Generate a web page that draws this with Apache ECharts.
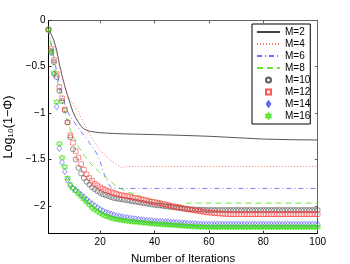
<!DOCTYPE html>
<html><head><meta charset="utf-8">
<script src="https://cdn.jsdelivr.net/npm/echarts@6/dist/echarts.min.js"></script>
<style>html,body{margin:0;padding:0;background:#fff}#c{width:350px;height:264px}</style>
</head><body><div id="c"></div>
<script>
// ---- data ----
const iterations = [1,2,3,4,5,6,7,8,9,10,11,12,13,14,15,16,17,18,19,20,21,22,23,24,25,26,27,28,29,30,31,32,33,34,35,36,37,38,39,40,41,42,43,44,45,46,47,48,49,50,51,52,53,54,55,56,57,58,59,60,61,62,63,64,65,66,67,68,69,70,71,72,73,74,75,76,77,78,79,80,81,82,83,84,85,86,87,88,89,90,91,92,93,94,95,96,97,98,99,100];

// line series (sparse points)
const m2X = [1,2,3,4,5,6,7,8,9,10,11,12,13,14,15,16,18,20,25,30,40,50,60,70,80,90,100];
const m2Y = [-0.10,-0.15,-0.22,-0.32,-0.47,-0.60,-0.71,-0.81,-0.90,-0.99,-1.05,-1.10,-1.14,-1.17,-1.185,-1.195,-1.205,-1.212,-1.22,-1.225,-1.232,-1.24,-1.25,-1.265,-1.28,-1.287,-1.29];
const m4X = [1,2,3,4,5,6,7,8,9,10,11,12,14,16,18,20,22,24,26,28,29,30,100];
const m4Y = [-0.10,-0.16,-0.25,-0.36,-0.49,-0.62,-0.72,-0.80,-0.85,-0.90,-0.94,-0.99,-1.11,-1.22,-1.32,-1.40,-1.46,-1.51,-1.55,-1.59,-1.58,-1.575,-1.575];
const m6X = [1,2,3,4,5,6,7,8,9,10,11,12,14,16,18,19,20,21,22,23,24,25,100];
const m6Y = [-0.10,-0.25,-0.40,-0.55,-0.68,-0.80,-0.90,-0.98,-1.04,-1.08,-1.12,-1.16,-1.24,-1.32,-1.40,-1.45,-1.52,-1.62,-1.70,-1.76,-1.80,-1.812,-1.812];
const m8X = [1,2,3,4,5,6,7,8,9,10,11,12,14,16,18,20,22,24,26,28,30,35,40,45,50,51,52,100];
const m8Y = [-0.10,-0.30,-0.47,-0.62,-0.76,-0.88,-0.99,-1.09,-1.18,-1.25,-1.30,-1.36,-1.45,-1.53,-1.59,-1.64,-1.69,-1.74,-1.79,-1.82,-1.85,-1.90,-1.94,-1.98,-2.00,-1.995,-1.97,-1.97];

// marker series (one value per iteration)
const m10 = [-0.10,-0.33,-0.45,-0.61,-0.76,-0.87,-0.97,-1.10,-1.26,-1.39,
 -1.50,-1.59,-1.65,-1.70,-1.74,-1.77,-1.80,-1.82,-1.84,-1.86,
 -1.875,-1.885,-1.895,-1.905,-1.915,-1.92,-1.925,-1.93,-1.935,-1.94,
 -1.945,-1.95,-1.955,-1.96,-1.965,-1.97,-1.975,-1.98,-1.985,-1.99,
 -1.993,-1.996,-2.0,-2.004,-2.008,-2.012,-2.016,-2.02,-2.024,-2.027,
 -2.03,-2.033,-2.036,-2.038,-2.04,-2.041,-2.042,-2.043,-2.044,-2.045,
 -2.045,-2.045,-2.045,-2.045,-2.045,-2.045,-2.045,-2.045,-2.045,-2.045,
 -2.045,-2.045,-2.045,-2.045,-2.045,-2.045,-2.045,-2.045,-2.045,-2.045,
 -2.045,-2.045,-2.045,-2.045,-2.045,-2.045,-2.045,-2.045,-2.045,-2.045,
 -2.045,-2.045,-2.045,-2.045,-2.045,-2.045,-2.045,-2.045,-2.045,-2.045];
const m12 = [-0.10,-0.31,-0.43,-0.58,-0.72,-0.84,-0.96,-1.10,-1.24,-1.32,
 -1.41,-1.48,-1.55,-1.61,-1.66,-1.70,-1.73,-1.76,-1.78,-1.80,
 -1.815,-1.83,-1.84,-1.85,-1.86,-1.87,-1.88,-1.885,-1.89,-1.895,
 -1.90,-1.91,-1.915,-1.92,-1.93,-1.935,-1.94,-1.95,-1.955,-1.96,
 -1.965,-1.97,-1.98,-1.985,-1.99,-2.0,-2.005,-2.01,-2.015,-2.02,
 -2.03,-2.035,-2.04,-2.045,-2.05,-2.055,-2.06,-2.065,-2.07,-2.072,
 -2.075,-2.078,-2.08,-2.083,-2.085,-2.087,-2.089,-2.09,-2.09,-2.09,
 -2.09,-2.09,-2.09,-2.09,-2.09,-2.09,-2.09,-2.09,-2.09,-2.09,
 -2.09,-2.09,-2.09,-2.09,-2.09,-2.09,-2.09,-2.09,-2.09,-2.09,
 -2.09,-2.09,-2.09,-2.09,-2.09,-2.09,-2.09,-2.09,-2.09,-2.09];
const m14 = [-0.10,-0.35,-0.58,-0.93,-1.38,-1.53,-1.63,-1.72,-1.78,-1.81,
 -1.83,-1.855,-1.88,-1.905,-1.93,-1.955,-1.98,-2.0,-2.02,-2.04,
 -2.055,-2.07,-2.08,-2.09,-2.10,-2.11,-2.115,-2.12,-2.125,-2.13,
 -2.135,-2.14,-2.143,-2.146,-2.15,-2.153,-2.156,-2.159,-2.162,-2.165,
 -2.167,-2.169,-2.171,-2.173,-2.175,-2.177,-2.179,-2.181,-2.183,-2.185,
 -2.187,-2.189,-2.191,-2.193,-2.195,-2.197,-2.198,-2.199,-2.2,-2.2,
 -2.2,-2.2,-2.2,-2.2,-2.2,-2.2,-2.2,-2.2,-2.2,-2.2,
 -2.2,-2.2,-2.2,-2.2,-2.2,-2.2,-2.2,-2.2,-2.2,-2.2,
 -2.2,-2.2,-2.2,-2.2,-2.2,-2.2,-2.2,-2.2,-2.2,-2.2,
 -2.2,-2.2,-2.2,-2.2,-2.2,-2.2,-2.2,-2.2,-2.2,-2.2];
const m16 = [-0.10,-0.34,-0.57,-0.88,-1.33,-1.48,-1.58,-1.70,-1.77,-1.81,
 -1.84,-1.87,-1.90,-1.93,-1.96,-1.99,-2.02,-2.04,-2.06,-2.08,
 -2.095,-2.11,-2.12,-2.13,-2.14,-2.145,-2.15,-2.155,-2.16,-2.165,
 -2.168,-2.171,-2.174,-2.177,-2.18,-2.183,-2.186,-2.189,-2.192,-2.195,
 -2.197,-2.199,-2.201,-2.203,-2.205,-2.207,-2.209,-2.211,-2.213,-2.215,
 -2.217,-2.219,-2.221,-2.223,-2.225,-2.226,-2.227,-2.228,-2.229,-2.23,
 -2.23,-2.23,-2.23,-2.23,-2.23,-2.23,-2.23,-2.23,-2.23,-2.23,
 -2.23,-2.23,-2.23,-2.23,-2.23,-2.23,-2.23,-2.23,-2.23,-2.23,
 -2.23,-2.23,-2.23,-2.23,-2.23,-2.23,-2.23,-2.23,-2.23,-2.23,
 -2.23,-2.23,-2.23,-2.23,-2.23,-2.23,-2.23,-2.23,-2.23,-2.23];

const seriesNames = ['M=2','M=4','M=6','M=8','M=10','M=12','M=14','M=16'];
const xTickValues = [20,40,60,80,100];
const xTickLabels = ['20','40','60','80','100'];
const yTickValues = [0,-0.5,-1,-1.5,-2];
const yTickLabels = ['0','\u22120.5','\u22121','\u22121.5','\u22122'];
const xTitle = 'Number of Iterations';
const yTitle = 'Log\u2081\u2080(1\u2212\u03A6)';

// ---- chart ----
const FONT = "'Liberation Sans', Arial, Helvetica, sans-serif";
const pairs = (xs, ys) => xs.map((x, i) => [x, ys[i]]);
const pick = (vals, labs) => v => { const i = vals.findIndex(t => Math.abs(t - v) < 1e-9); return i >= 0 ? labs[i] : ''; };
const SYM_CIRCLE = 'circle';
const SYM_SQUARE = 'path://M0,0 L10,0 L10,10 L0,10 Z';
const SYM_DIAMOND = 'path://M5,0 L9.5,7 L5,14 L0.5,7 Z';
const SYM_HEXAGRAM = 'path://M10,0 L18.66,15 L1.34,15 Z M10,20 L18.66,5 L1.34,5 Z';

const lineColors = ['#444444', '#ff7777', '#6f6fff', '#66e633'];
const lineTypes = ['solid', [1, 2], [5, 3, 1, 3], [6, 4]];
const markColors = ['#333333', '#ff2a2a', '#2a2aff', '#33e000'];
const markSymbols = [SYM_CIRCLE, SYM_SQUARE, SYM_DIAMOND, SYM_HEXAGRAM];
const markSizes = [5, 4.6, [4.6, 6.4], 5.8];

function lineSeries(i, xs, ys, width) {
  return { name: seriesNames[i], type: 'line', data: pairs(xs, ys), symbol: 'none', showSymbol: false,
    lineStyle: { color: lineColors[i], width, type: lineTypes[i] }, itemStyle: { color: lineColors[i] }, z: 2, silent: true };
}
function markSeries(i, ys) {
  const k = i - 4, c = markColors[k];
  return { name: seriesNames[i], type: 'scatter', data: pairs(iterations, ys), symbol: markSymbols[k], symbolSize: markSizes[k],
    itemStyle: { color: 'rgba(255,255,255,0)', borderColor: c, borderWidth: 0.65 }, z: 3, silent: true };
}

const axisLineDark = { show: true, onZero: false, lineStyle: { color: '#000', width: 1 } };
const axisLineLight = { show: true, onZero: false, lineStyle: { color: '#666', width: 1 } };

const legendData = seriesNames.map((n, i) => i < 4
  ? { name: n, itemStyle: { color: 'rgba(0,0,0,0)', borderWidth: 0, opacity: 0 } }
  : { name: n, icon: markSymbols[i - 4] });

const option = {
  animation: false,
  backgroundColor: '#fff',
  grid: { left: 48.5, right: 32.3, top: 20.3, bottom: 30.3, containLabel: false, outerBoundsMode: 'none' },
  xAxis: [
    { type: 'value', position: 'bottom', min: 1, max: 100,
      axisLine: axisLineDark,
      axisTick: { show: true, inside: true, length: 3, customValues: xTickValues, lineStyle: { color: '#333' } },
      axisLabel: { show: true, customValues: xTickValues, formatter: pick(xTickValues, xTickLabels),
        fontSize: 10, fontFamily: FONT, color: '#000', margin: 4 },
      splitLine: { show: false },
      name: xTitle, nameLocation: 'middle', nameGap: 17,
      nameTextStyle: { fontSize: 11.5, fontFamily: FONT, color: '#000' } },
    { type: 'value', position: 'top', min: 1, max: 100,
      axisLine: axisLineLight,
      axisTick: { show: true, inside: true, length: 3, customValues: xTickValues, lineStyle: { color: '#666' } },
      axisLabel: { show: false, customValues: xTickValues }, splitLine: { show: false } }
  ],
  yAxis: [
    { type: 'value', position: 'left', min: -2.3, max: 0,
      axisLine: axisLineDark,
      axisTick: { show: true, inside: true, length: 3, customValues: yTickValues, lineStyle: { color: '#333' } },
      axisLabel: { show: true, customValues: yTickValues, formatter: pick(yTickValues, yTickLabels),
        fontSize: 10, fontFamily: FONT, color: '#000', margin: 3 },
      splitLine: { show: false },
      name: yTitle, nameLocation: 'middle', nameRotate: 90, nameGap: 32,
      nameTextStyle: { fontSize: 12.5, fontFamily: FONT, color: '#000' } },
    { type: 'value', position: 'right', min: -2.3, max: 0,
      axisLine: axisLineLight,
      axisTick: { show: true, inside: true, length: 3, customValues: yTickValues, lineStyle: { color: '#666' } },
      axisLabel: { show: false, customValues: yTickValues }, splitLine: { show: false } }
  ],
  legend: {
    left: 252, top: 24, orient: 'vertical', padding: [2, 0, 2, 4], itemGap: 0,
    itemWidth: 23, itemHeight: 5, symbolKeepAspect: true,
    textStyle: { fontSize: 10, fontFamily: FONT, color: '#000', lineHeight: 12 },
    borderColor: '#000', borderWidth: 1, backgroundColor: '#fff',
    data: legendData, selectedMode: false
  },
  series: [
    lineSeries(0, m2X, m2Y, 0.9),
    lineSeries(1, m4X, m4Y, 1),
    lineSeries(2, m6X, m6Y, 0.9),
    lineSeries(3, m8X, m8Y, 0.9),
    markSeries(4, m10),
    markSeries(5, m12),
    markSeries(6, m14),
    markSeries(7, m16)
  ]
};
const chart = echarts.init(document.getElementById('c'), null, { renderer: 'canvas' });
chart.setOption(option);
</script>
</body></html>
